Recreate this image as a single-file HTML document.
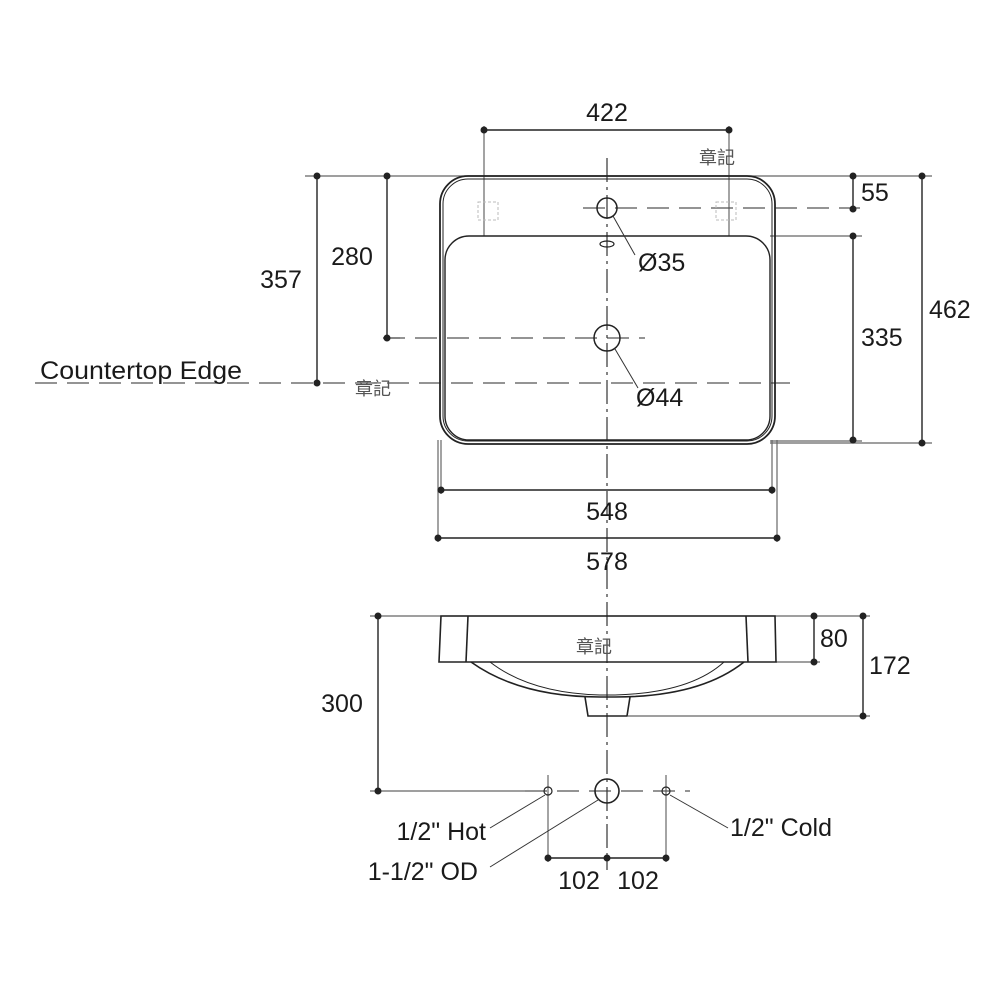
<!DOCTYPE html>
<html><head><meta charset="utf-8"><style>
html,body{margin:0;padding:0;background:#fff;}
svg{display:block;}
text{font-family:"Liberation Sans","Noto Sans CJK TC",sans-serif;fill:#1a1a1a;}
</style></head><body>
<svg width="986" height="986" viewBox="0 0 986 986" xmlns="http://www.w3.org/2000/svg">
<g stroke="#666" stroke-width="1.2" fill="none">
  <line x1="305" y1="176" x2="932" y2="176"/>
  <line x1="383" y1="338" x2="400" y2="338"/>
  <line x1="770" y1="236" x2="862" y2="236"/>
  <line x1="770" y1="441" x2="862" y2="441"/>
  <line x1="770" y1="443" x2="932" y2="443"/>
  <line x1="484" y1="126" x2="484" y2="236"/>
  <line x1="729" y1="126" x2="729" y2="236"/>
  <line x1="441" y1="440" x2="441" y2="494"/>
  <line x1="772" y1="440" x2="772" y2="494"/>
  <line x1="438" y1="440" x2="438" y2="542"/>
  <line x1="777" y1="440" x2="777" y2="542"/>
  <line x1="370" y1="616" x2="870" y2="616"/>
  <line x1="776" y1="662" x2="820" y2="662"/>
  <line x1="628" y1="716" x2="870" y2="716"/>
  <line x1="370" y1="791" x2="525" y2="791"/>
  <line x1="548" y1="775" x2="548" y2="862"/>
  <line x1="666" y1="775" x2="666" y2="862"/>
</g>
<g stroke="#555" stroke-width="1.3" fill="none" stroke-dasharray="22,10">
  <line x1="35" y1="383" x2="790" y2="383"/>
  <line x1="583" y1="208" x2="860" y2="208"/>
  <line x1="383" y1="338" x2="645" y2="338"/>
  <line x1="525" y1="791" x2="690" y2="791"/>
</g>
<line x1="607" y1="158" x2="607" y2="870" stroke="#333" stroke-width="1.2" stroke-dasharray="24,5,3,5"/>
<g stroke="#222" stroke-width="1.8" fill="none">
  <rect x="440" y="176" width="335" height="268" rx="28"/>
  <rect x="443" y="179" width="329" height="262" rx="25" stroke-width="1"/>
  <rect x="445" y="236" width="325" height="204" rx="24" stroke-width="1.4"/>
  <circle cx="607" cy="208" r="10" stroke-width="1.5"/>
  <circle cx="607" cy="338" r="13" stroke-width="1.5"/>
  <ellipse cx="607" cy="244" rx="7" ry="3" stroke-width="1.2"/>
</g>
<g stroke="#bbb" stroke-width="1" fill="none" stroke-dasharray="3,2">
  <rect x="478" y="202" width="20" height="18"/>
  <rect x="716" y="202" width="20" height="18"/>
</g>
<g stroke="#333" stroke-width="1" fill="none">
  <line x1="613" y1="216" x2="635" y2="255"/>
  <line x1="615" y1="349" x2="638" y2="388"/>
</g>
<g stroke="#222" stroke-width="1.4" fill="none">
  <line x1="484" y1="130" x2="729" y2="130"/>
  <line x1="317" y1="176" x2="317" y2="383"/>
  <line x1="387" y1="176" x2="387" y2="338"/>
  <line x1="853" y1="176" x2="853" y2="209"/>
  <line x1="853" y1="236" x2="853" y2="440"/>
  <line x1="922" y1="176" x2="922" y2="443"/>
  <line x1="441" y1="490" x2="772" y2="490"/>
  <line x1="438" y1="538" x2="777" y2="538"/>
  <line x1="378" y1="616" x2="378" y2="791"/>
  <line x1="814" y1="616" x2="814" y2="662"/>
  <line x1="863" y1="616" x2="863" y2="716"/>
  <line x1="548" y1="858" x2="666" y2="858"/>
</g>
<g fill="#222">
  <circle cx="484" cy="130" r="3.5"/><circle cx="729" cy="130" r="3.5"/>
  <circle cx="317" cy="176" r="3.5"/><circle cx="317" cy="383" r="3.5"/>
  <circle cx="387" cy="176" r="3.5"/><circle cx="387" cy="338" r="3.5"/>
  <circle cx="853" cy="176" r="3.5"/><circle cx="853" cy="209" r="3.5"/>
  <circle cx="853" cy="236" r="3.5"/><circle cx="853" cy="440" r="3.5"/>
  <circle cx="922" cy="176" r="3.5"/><circle cx="922" cy="443" r="3.5"/>
  <circle cx="441" cy="490" r="3.5"/><circle cx="772" cy="490" r="3.5"/>
  <circle cx="438" cy="538" r="3.5"/><circle cx="777" cy="538" r="3.5"/>
  <circle cx="378" cy="616" r="3.5"/><circle cx="378" cy="791" r="3.5"/>
  <circle cx="814" cy="616" r="3.5"/><circle cx="814" cy="662" r="3.5"/>
  <circle cx="863" cy="616" r="3.5"/><circle cx="863" cy="716" r="3.5"/>
  <circle cx="548" cy="858" r="3.5"/><circle cx="607" cy="858" r="3.5"/><circle cx="666" cy="858" r="3.5"/>
</g>
<g stroke="#222" stroke-width="1.6" fill="none">
  <path d="M441,616 L775,616 L776,662 L439,662 Z"/>
  <line x1="468" y1="616" x2="466" y2="662"/>
  <line x1="746" y1="616" x2="748" y2="662"/>
  <path d="M471,662 Q520,697 600,697 L615,697 Q700,697 744,662"/>
  <path d="M490,662 Q530,693 600,695 L615,695 Q690,693 724,662" stroke-width="1"/>
  <path d="M585,697 L588,716 L627,716 L630,697"/>
  <circle cx="607" cy="791" r="12"/>
  <circle cx="548" cy="791" r="4" stroke-width="1.2"/>
  <circle cx="666" cy="791" r="4" stroke-width="1.2"/>
</g>
<g stroke="#333" stroke-width="1" fill="none">
  <line x1="490" y1="828" x2="545" y2="795"/>
  <line x1="490" y1="867" x2="598" y2="800"/>
  <line x1="670" y1="795" x2="728" y2="828"/>
</g>
<g font-size="25">
  <text x="607" y="121" text-anchor="middle">422</text>
  <text x="281" y="288" text-anchor="middle">357</text>
  <text x="352" y="265" text-anchor="middle">280</text>
  <text x="861" y="201">55</text>
  <text x="861" y="346">335</text>
  <text x="929" y="318">462</text>
  <text x="638" y="271">Ø35</text>
  <text x="636" y="406">Ø44</text>
  <text x="40" y="379" textLength="202" lengthAdjust="spacingAndGlyphs">Countertop Edge</text>
  <text x="607" y="520" text-anchor="middle">548</text>
  <text x="607" y="570" text-anchor="middle">578</text>
  <text x="342" y="712" text-anchor="middle">300</text>
  <text x="820" y="647">80</text>
  <text x="869" y="674">172</text>
  <text x="486" y="840" text-anchor="end">1/2" Hot</text>
  <text x="478" y="880" text-anchor="end">1-1/2" OD</text>
  <text x="730" y="836">1/2" Cold</text>
  <text x="579" y="889" text-anchor="middle">102</text>
  <text x="638" y="889" text-anchor="middle">102</text>
</g>
<g font-size="18">
  <text x="699" y="164" style="fill:#555">章記</text>
  <text x="355" y="395" style="fill:#555">章記</text>
  <text x="576" y="653" style="fill:#555">章記</text>
</g>
</svg>
</body></html>
